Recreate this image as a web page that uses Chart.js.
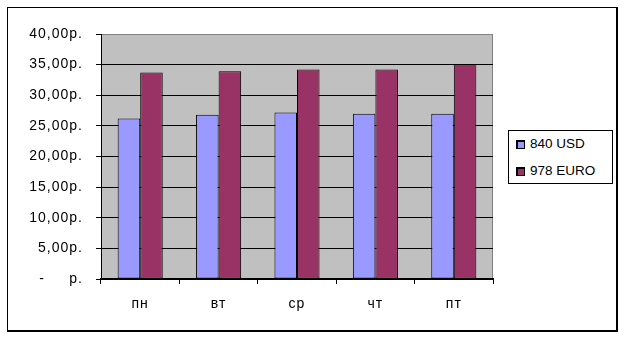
<!DOCTYPE html>
<html>
<head>
<meta charset="utf-8">
<script src="https://cdn.jsdelivr.net/npm/chart.js@4"></script>
<style>
  html, body { margin: 0; padding: 0; background: #fff; }
  #wrap { position: relative; width: 624px; height: 339px; }
  #frame {
    position: absolute; left: 7px; top: 7px; width: 608px; height: 322px;
    border-left: 1px solid #000; border-top: 1px solid #000;
    border-right: 2px solid #000; border-bottom: 2px solid #000;
  }
  #chart { position: absolute; left: 0; top: 0; }
  #legend {
    position: absolute; left: 508px; top: 130px; width: 103px; height: 52px;
    border: 1px solid #000; background: #fff;
    font-family: Arial, "Liberation Sans", sans-serif; font-size: 13.5px; color: #000;
  }
  #legend .item { position: absolute; left: 7px; height: 14px; line-height: 14px; white-space: nowrap; }
  #legend .box { display: inline-block; width: 6px; height: 6px; border: 1px solid #000; border-width: 2px 1px 1px 2px; vertical-align: -1px; margin-right: 5px; }
</style>
</head>
<body>
<div id="wrap">
  <div id="frame"></div>
  <canvas id="chart" width="624" height="339"></canvas>
  <div id="legend"></div>
</div>
<script>
// Days of the week (categories)
const days = ["пн", "вт", "ср", "чт", "пт"];
// Exchange rates, rubles
const usdValues = [26.2, 26.8, 27.2, 27.0, 27.0];
const euroValues = [33.7, 33.9, 34.2, 34.2, 35.1];
const seriesNames = ["840 USD", "978 EURO"];
const seriesColors = ["#9999FF", "#993366"];
const yTicks = [0, 5, 10, 15, 20, 25, 30, 35, 40];

// Format tick like Excel accounting style: 35,00р.
function formatRub(v) {
  if (v === 0) return "-     р.";
  return v.toFixed(2).replace(".", ",") + "р.";
}

// Grey plot area with a grey frame, plus wider letter spacing like Excel
const plotBackground = {
  id: "plotBackground",
  beforeDraw(chart) {
    const { ctx, chartArea } = chart;
    ctx.save();
    ctx.fillStyle = "#C0C0C0";
    ctx.fillRect(chartArea.left, chartArea.top, chartArea.right - chartArea.left, chartArea.bottom - chartArea.top);
    ctx.strokeStyle = "#808080";
    ctx.lineWidth = 1;
    ctx.strokeRect(chartArea.left + 0.5, chartArea.top + 0.5, chartArea.right - chartArea.left - 1, chartArea.bottom - chartArea.top);
    ctx.restore();
    ctx.letterSpacing = "1px";
  },
  afterDraw(chart) {
    chart.ctx.letterSpacing = "0px";
  },
};

const ctx = document.getElementById("chart").getContext("2d");
const chart = new Chart(ctx, {
  type: "bar",
  data: {
    labels: days,
    datasets: [
      {
        label: seriesNames[0],
        data: usdValues,
        backgroundColor: seriesColors[0],
        borderColor: "#000",
        borderWidth: 1,
        borderSkipped: false,
      },
      {
        label: seriesNames[1],
        data: euroValues,
        backgroundColor: seriesColors[1],
        borderColor: "#000",
        borderWidth: 1,
        borderSkipped: false,
      },
    ],
  },
  options: {
    responsive: false,
    animation: false,
    layout: { padding: { top: 34, right: 131, left: 0, bottom: 0 } },
    plugins: { legend: { display: false }, tooltip: { enabled: false } },
    datasets: { bar: { barPercentage: 1, categoryPercentage: 0.575 } },
    scales: {
      x: {
        grid: { drawOnChartArea: false, drawTicks: true, tickLength: 5, color: "#000" },
        border: { color: "#000", width: 2 },
        ticks: { color: "#000", padding: 12, font: { family: "Arial, 'Liberation Sans'", size: 14 } },
        afterFit(scale) { scale.height = 60; },
      },
      y: {
        min: 0,
        max: 40,
        afterBuildTicks(scale) { scale.ticks = yTicks.map((v) => ({ value: v })); },
        grid: {
          color: (c) => (c.tick && c.tick.value === 40 ? "#808080" : "#000"),
          tickColor: "#000",
          tickLength: 5,
        },
        border: { color: "#000", width: 1 },
        ticks: {
          color: "#000",
          padding: 13,
          font: { family: "Arial, 'Liberation Sans'", size: 14 },
          callback: (v) => formatRub(v),
        },
        afterFit(scale) { scale.width = 101; },
      },
    },
  },
  plugins: [plotBackground],
});

// HTML legend with a frame, built from the datasets
const legendEl = document.getElementById("legend");
chart.data.datasets.forEach((ds, i) => {
  const item = document.createElement("div");
  item.className = "item";
  item.style.top = 6 + i * 27 + "px";
  item.innerHTML = `<span class="box" style="background:${ds.backgroundColor}"></span>${ds.label}`;
  legendEl.appendChild(item);
});
</script>
</body>
</html>
